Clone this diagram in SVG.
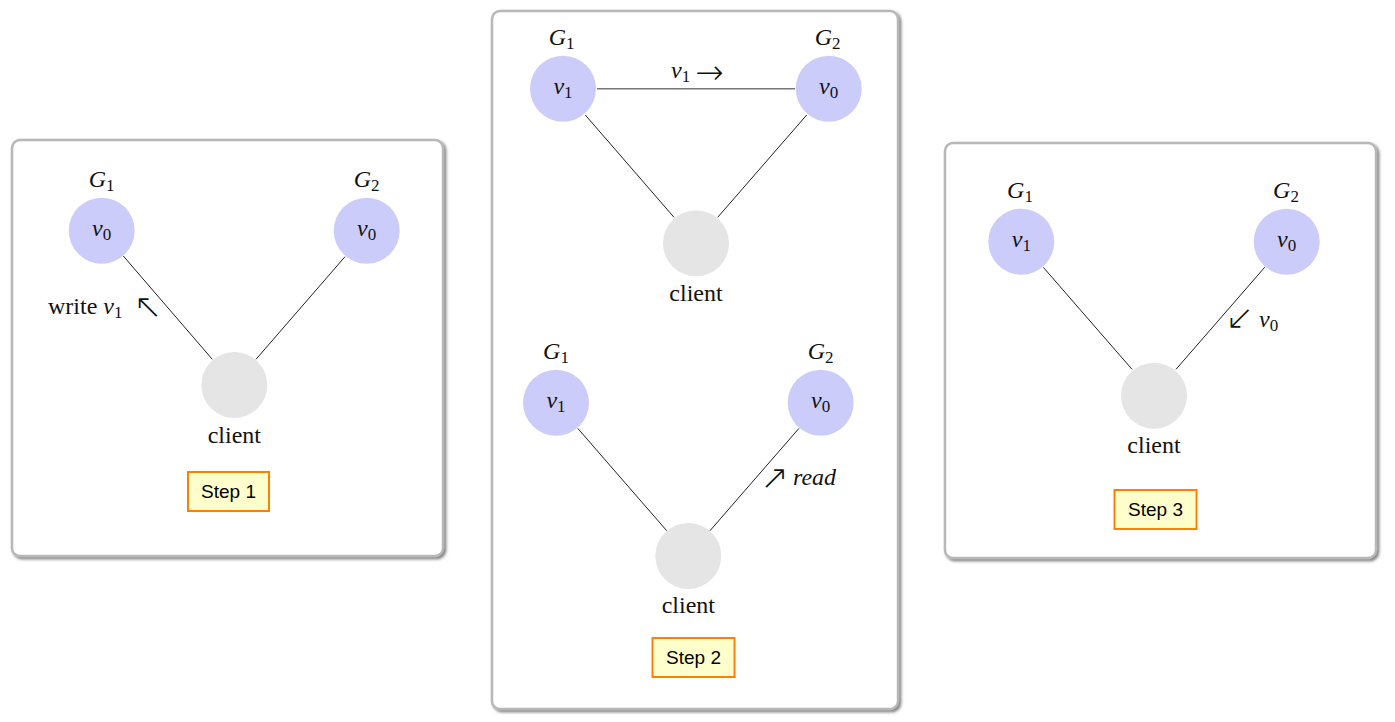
<svg xmlns="http://www.w3.org/2000/svg" width="1395" height="722" viewBox="0 0 1395 722">
<defs>
<filter id="sh" x="-5%" y="-5%" width="110%" height="110%">
<feDropShadow dx="2" dy="2" stdDeviation="1.5" flood-color="#444" flood-opacity="0.7"/>
</filter>
</defs>
<style>
.panel{fill:#fff;stroke:#b8b8b8;stroke-width:2.5;filter:url(#sh)}
.g{fill:#ccccfa}
.c{fill:#e5e5e5}
.ln{stroke:#222;stroke-width:1;fill:none}
.hl{stroke:#777;stroke-width:1.4;fill:none}
.t{font-family:"Liberation Serif",serif;font-size:24px;fill:#111}
.mid{text-anchor:middle}
.i{font-style:italic}
.s{font-size:17px;font-style:normal}
.ar{font-family:"DejaVu Sans",sans-serif;font-size:34px;font-weight:200;fill:#111}
.box{fill:#ffffcc;stroke:#ff8000;stroke-width:2}
.st{font-family:"Liberation Sans",Arial,sans-serif;font-size:19px;fill:#000;text-anchor:middle}
</style>
<g id="panels">
<rect class="panel" x="12" y="140" width="431" height="416" rx="8"/>
<rect class="panel" x="492" y="11" width="406" height="698" rx="8"/>
<rect class="panel" x="945" y="143" width="431" height="415" rx="8"/>
</g>
<g id="connectors">
<line class="ln" x1="123.3" y1="256" x2="212.3" y2="359.3"/>
<line class="ln" x1="345" y1="256.7" x2="256" y2="359.3"/>
<line class="hl" x1="597" y1="88.7" x2="795" y2="88.7"/>
<line class="ln" x1="585.3" y1="115" x2="674" y2="217.3"/>
<line class="ln" x1="806.7" y1="115" x2="717.7" y2="217.3"/>
<line class="ln" x1="577.7" y1="428.3" x2="666.7" y2="530.7"/>
<line class="ln" x1="799" y1="428.3" x2="710" y2="530.7"/>
<line class="ln" x1="1043.3" y1="267.3" x2="1132" y2="369.3"/>
<line class="ln" x1="1264.7" y1="267.3" x2="1176" y2="369.3"/>
</g>
<g id="edge-labels">
<text class="t" x="48" y="314">write <tspan class="i">v</tspan><tspan class="s" dy="4">1</tspan></text>
<text class="ar mid" x="148" y="318">↖</text>
<text class="t" x="671" y="78"><tspan class="i">v</tspan><tspan class="s" dy="4">1</tspan></text>
<text class="ar mid" x="709.5" y="84">→</text>
<text class="ar mid" x="774.5" y="489">↗</text>
<text class="t i" x="793" y="485">read</text>
<text class="ar mid" x="1239.7" y="329">↙</text>
<text class="t" x="1259" y="327"><tspan class="i">v</tspan><tspan class="s" dy="4">0</tspan></text>
</g>
<g id="step1">
<g id="s1-g1"><text class="t mid" x="101.7" y="187"><tspan class="i">G</tspan><tspan class="s" dy="4">1</tspan></text><circle class="g" cx="101.7" cy="230.7" r="33"/><text class="t mid" x="101.7" y="236"><tspan class="i">v</tspan><tspan class="s" dy="4">0</tspan></text></g>
<g id="s1-g2"><text class="t mid" x="366.7" y="187"><tspan class="i">G</tspan><tspan class="s" dy="4">2</tspan></text><circle class="g" cx="366.7" cy="230.7" r="33"/><text class="t mid" x="366.7" y="236"><tspan class="i">v</tspan><tspan class="s" dy="4">0</tspan></text></g>
<g id="s1-client"><circle class="c" cx="234.3" cy="385" r="33"/><text class="t mid" x="234.3" y="443">client</text></g>
<g id="s1-label"><rect class="box" x="188" y="472" width="81" height="39"/><text class="st" x="228.5" y="498">Step 1</text></g>
</g>
<g id="step2">
<g id="s2a-g1"><text class="t mid" x="561.7" y="45"><tspan class="i">G</tspan><tspan class="s" dy="4">1</tspan></text><circle class="g" cx="563" cy="88.7" r="33"/><text class="t mid" x="563" y="94"><tspan class="i">v</tspan><tspan class="s" dy="4">1</tspan></text></g>
<g id="s2a-g2"><text class="t mid" x="827.7" y="45"><tspan class="i">G</tspan><tspan class="s" dy="4">2</tspan></text><circle class="g" cx="828.7" cy="88.7" r="33"/><text class="t mid" x="828.7" y="94"><tspan class="i">v</tspan><tspan class="s" dy="4">0</tspan></text></g>
<g id="s2a-client"><circle class="c" cx="696" cy="243.3" r="33"/><text class="t mid" x="696" y="301">client</text></g>
<g id="s2b-g1"><text class="t mid" x="556" y="359"><tspan class="i">G</tspan><tspan class="s" dy="4">1</tspan></text><circle class="g" cx="556" cy="402.7" r="33"/><text class="t mid" x="556" y="408"><tspan class="i">v</tspan><tspan class="s" dy="4">1</tspan></text></g>
<g id="s2b-g2"><text class="t mid" x="820.7" y="359"><tspan class="i">G</tspan><tspan class="s" dy="4">2</tspan></text><circle class="g" cx="820.7" cy="402.7" r="33"/><text class="t mid" x="820.7" y="408"><tspan class="i">v</tspan><tspan class="s" dy="4">0</tspan></text></g>
<g id="s2b-client"><circle class="c" cx="688.3" cy="556" r="33"/><text class="t mid" x="688.3" y="613">client</text></g>
<g id="s2-label"><rect class="box" x="652.5" y="638" width="82" height="39"/><text class="st" x="693.5" y="664">Step 2</text></g>
</g>
<g id="step3">
<g id="s3-g1"><text class="t mid" x="1020" y="198"><tspan class="i">G</tspan><tspan class="s" dy="4">1</tspan></text><circle class="g" cx="1021.3" cy="241.7" r="33"/><text class="t mid" x="1021.3" y="247"><tspan class="i">v</tspan><tspan class="s" dy="4">1</tspan></text></g>
<g id="s3-g2"><text class="t mid" x="1286" y="198"><tspan class="i">G</tspan><tspan class="s" dy="4">2</tspan></text><circle class="g" cx="1286.7" cy="241.7" r="33"/><text class="t mid" x="1286.7" y="247"><tspan class="i">v</tspan><tspan class="s" dy="4">0</tspan></text></g>
<g id="s3-client"><circle class="c" cx="1154" cy="395.7" r="33"/><text class="t mid" x="1154" y="453">client</text></g>
<g id="s3-label"><rect class="box" x="1114.5" y="490" width="82" height="39"/><text class="st" x="1155.5" y="516">Step 3</text></g>
</g>
</svg>
